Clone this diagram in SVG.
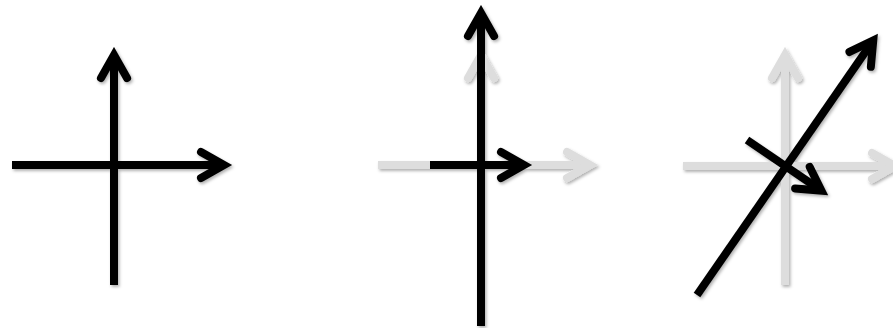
<svg xmlns="http://www.w3.org/2000/svg" width="893" height="328" viewBox="0 0 893 328">
  <style>
    .ax { fill: none; stroke-width: 8; stroke-linejoin: miter; stroke-miterlimit: 6; }
    .ln { stroke-linecap: butt; }
    .hd { stroke-linecap: round; }
    .blk { stroke: #000000; }
    .gry { stroke: #dddddd; }
  </style>
  <defs>
    <filter id="sh" x="-20%" y="-20%" width="140%" height="140%">
      <feDropShadow dx="1.5" dy="2" stdDeviation="1.5" flood-color="#000000" flood-opacity="0.3"/>
    </filter>
    <!-- arrow pointing right, vertex at origin -->
    <path id="head" d="M -23 -13 L 0 0 L -23 13"/>
  </defs>
  <rect width="893" height="328" fill="#ffffff"/>

  <g id="connectors" filter="url(#sh)">
    <!-- Panel 1 -->
    <g id="p1-y" class="ax blk">
      <line class="ln" x1="114" y1="285" x2="114" y2="55"/>
      <use class="hd" href="#head" transform="translate(114 55) rotate(-90)"/>
    </g>
    <g id="p1-x" class="ax blk">
      <line class="ln" x1="12" y1="165" x2="224" y2="165"/>
      <use class="hd" href="#head" transform="translate(224 165)"/>
    </g>

    <!-- Panel 2 -->
    <g id="p2-gy" class="ax gry">
      <line class="ln" x1="481" y1="285" x2="481" y2="55"/>
      <use class="hd" href="#head" transform="translate(481 55) rotate(-90)"/>
    </g>
    <g id="p2-gx" class="ax gry">
      <line class="ln" x1="378" y1="165" x2="590" y2="165"/>
      <use class="hd" href="#head" transform="translate(590 165)"/>
    </g>
    <g id="p2-y" class="ax blk">
      <line class="ln" x1="481" y1="326" x2="481" y2="13"/>
      <use class="hd" href="#head" transform="translate(481 13) rotate(-90)"/>
    </g>
    <g id="p2-x" class="ax blk">
      <line class="ln" x1="430" y1="165" x2="524" y2="165"/>
      <use class="hd" href="#head" transform="translate(524 165)"/>
    </g>

    <!-- Panel 3 -->
    <g id="p3-gy" class="ax gry">
      <line class="ln" x1="785" y1="285" x2="785" y2="55"/>
      <use class="hd" href="#head" transform="translate(785 55) rotate(-90)"/>
    </g>
    <g id="p3-gx" class="ax gry">
      <line class="ln" x1="683" y1="166" x2="895" y2="166"/>
      <use class="hd" href="#head" transform="translate(895 166)"/>
    </g>
    <g id="p3-x" class="ax blk" transform="translate(747 140) rotate(34.2)">
      <line class="ln" x1="0" y1="0" x2="90" y2="0"/>
      <use class="hd" href="#head" transform="translate(90 0)"/>
    </g>
    <g id="p3-y" class="ax blk" transform="translate(697 295) rotate(-55.3)">
      <line class="ln" x1="0" y1="0" x2="309.6" y2="0"/>
      <use class="hd" href="#head" transform="translate(309.6 0)"/>
    </g>
  </g>
</svg>
